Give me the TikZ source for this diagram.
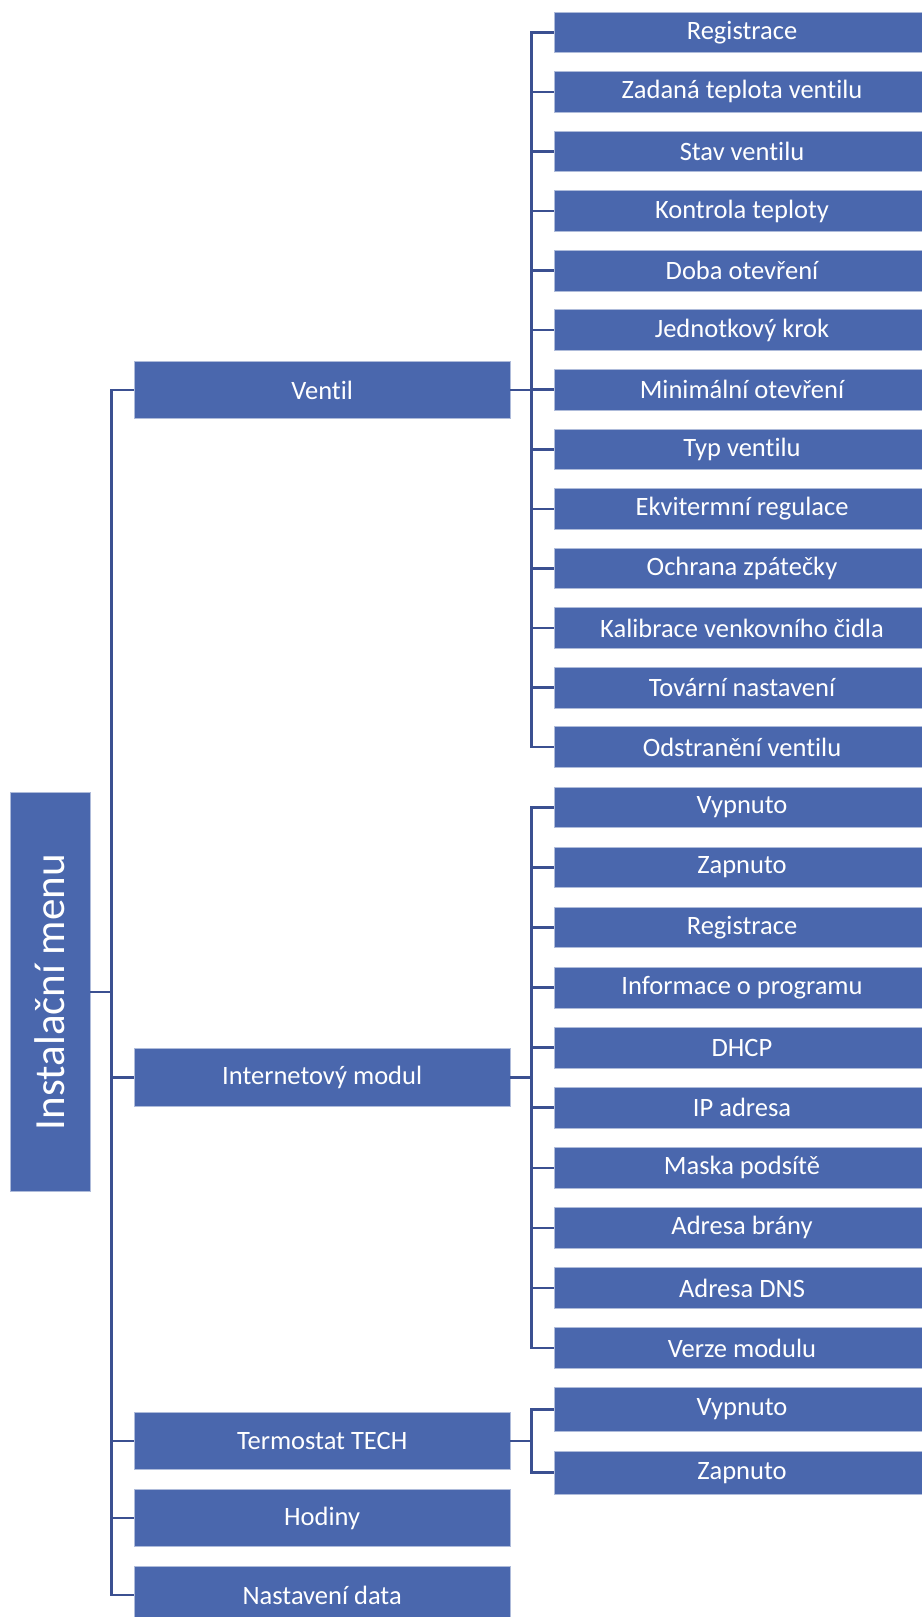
\documentclass[tikz,border=0pt]{standalone}
\usepackage{fontspec}
\setmainfont[Ligatures={NoCommon}]{Carlito}
\usepackage{xcolor}

\definecolor{boxblue}{HTML}{4A67AD}
\definecolor{linkblue}{HTML}{3B5091}

\tikzset{
    menubox/.style={draw=white!55!boxblue, line width=0.7pt, fill=boxblue, text=white,
        inner sep=0pt, minimum width=375.7pt, minimum height=57.6pt,
        font=\fontsize{26.5}{30}\selectfont},
    itembox/.style={menubox, minimum width=376pt, minimum height=40.7pt},
    link/.style={draw=linkblue, line width=2.6pt}
}

\begin{document}
\begin{tikzpicture}[x=1pt, y=-1pt]
    \useasboundingbox (0,0) rectangle (921,1617);

    % Root
    \node[menubox, rotate=90, minimum width=399.4pt, minimum height=79.7pt,
        font=\fontsize{43}{48}\selectfont] (root) at (50.15,992) {Instalační menu};

    % First level
    \node[menubox] (ventil) at (322.15,390) {Ventil};
    \node[menubox] (inet) at (322.15,1077.5) {Internetový modul};
    \node[menubox] (termo) at (322.15,1441) {Termostat TECH};
    \node[menubox] (hodiny) at (322.15,1518) {Hodiny};
    \node[menubox] (datum) at (322.15,1595) {Nastavení data};

    % Second level
    \foreach \txt [count=\k] in {Registrace, Zadaná teplota ventilu, Stav ventilu,
        Kontrola teploty, Doba otevření, Jednotkový krok, Minimální otevření,
        Typ ventilu, Ekvitermní regulace, Ochrana zpátečky,
        Kalibrace venkovního čidla, Tovární nastavení, Odstranění ventilu} {
        \node[itembox] (v\k) at ({742},{32.35+59.56*(\k-1)}) {\txt};
    }
    \foreach \txt [count=\k] in {Vypnuto, Zapnuto, Registrace, Informace o programu,
        DHCP, IP adresa, Maska podsítě, Adresa brány, Adresa DNS, Verze modulu} {
        \node[itembox] (i\k) at ({742},{807.2+60.1*(\k-1)}) {\txt};
    }
    \node[itembox, minimum height=43.5pt] (t1) at (742,1409.4) {Vypnuto};
    \node[itembox, minimum height=43.5pt] (t2) at (742,1472.7) {Zapnuto};

    % Connectors root
    \draw[link] (root.south) -- ++(22,0);
    \draw[link] (ventil.west) -- ++(-22.3,0) |- (datum.west);
    \foreach \n in {inet, termo, hodiny} {
        \draw[link] (\n.west) -- ++(-22.3,0);
    }

    % Connectors ventil
    \draw[link] (ventil.east) -- ++(21.7,0);
    \draw[link] (v1.west) -- ++(-22.3,0) |- (v13.west);
    \foreach \k in {2,...,12} {
        \draw[link] (v\k.west) -- ++(-22.3,0);
    }

    % Connectors internet
    \draw[link] (inet.east) -- ++(21.7,0);
    \draw[link] (i1.west) -- ++(-22.3,0) |- (i10.west);
    \foreach \k in {2,...,9} {
        \draw[link] (i\k.west) -- ++(-22.3,0);
    }

    % Connectors termostat
    \draw[link] (termo.east) -- ++(21.7,0);
    \draw[link] (t1.west) -- ++(-22.3,0) |- (t2.west);
\end{tikzpicture}
\end{document}
